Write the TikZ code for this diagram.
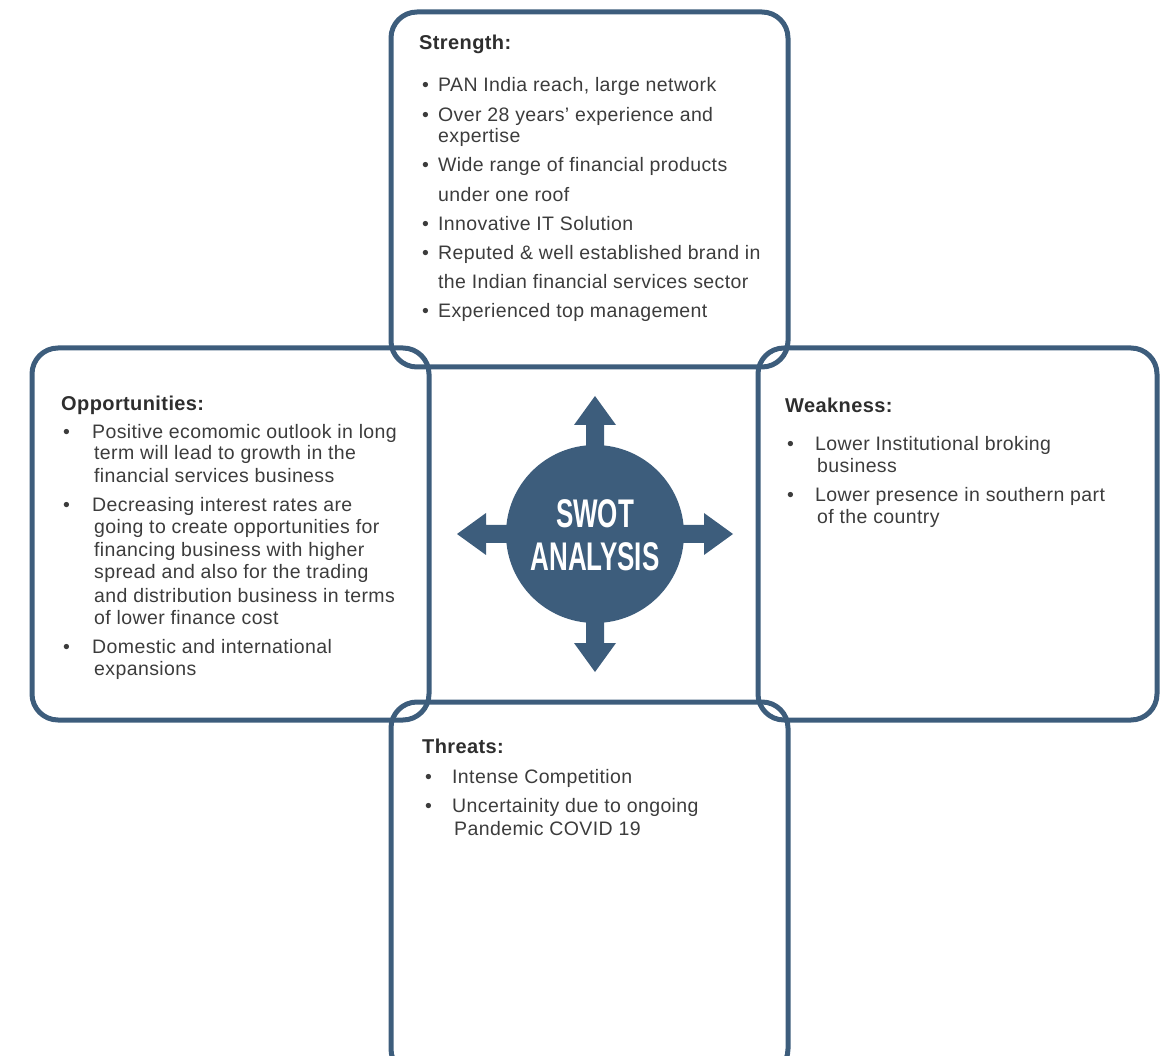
\documentclass[tikz,border=0pt]{standalone}
\usepackage{fontspec}
\setmainfont{Liberation Sans}[LetterSpace=2]
\newfontfamily\swotfont[FakeStretch=0.65]{Liberation Sans}

\definecolor{swotblue}{HTML}{3D5D7C}
\definecolor{headgray}{HTML}{2E2E2E}
\definecolor{bodygray}{HTML}{3C3C3C}

\tikzset{
  quad/.style={draw=swotblue, line width=5pt, rounded corners=26pt},
  head/.style={anchor=base west, inner sep=0pt, text=headgray,
               font=\fontsize{20}{24}\selectfont\bfseries},
  line/.style={anchor=base west, inner sep=0pt, text=bodygray,
               font=\fontsize{19.5}{23}\selectfont},
  dot/.style={line}
}

\begin{document}
\begin{tikzpicture}[x=1pt,y=-1pt]

  \useasboundingbox (0,0) rectangle (1171,1056);
  \clip (0,0) rectangle (1171,1056);

  % the four boxes
  \draw[quad] (391,12)  rectangle (788,367);
  \draw[quad] (32,348)  rectangle (429,720);
  \draw[quad] (758,348) rectangle (1157,720);
  \draw[quad] (391,702) rectangle (788,1075);

  % hub with its four arrows
  \node[circle, fill=swotblue, minimum size=178pt, inner sep=0pt] (hub) at (595,534) {};
  \begin{scope}[shift={(hub.center)}]
    \foreach \a in {0,90,180,270}
      \fill[swotblue, rotate=\a] (80,-9) -- (109,-9) -- (109,-21) -- (138,0)
        -- (109,21) -- (109,9) -- (80,9) -- cycle;
  \end{scope}
  \begin{scope}[every node/.style={anchor=base, inner sep=0pt, text=white,
                                   font=\swotfont\fontsize{40}{44}\selectfont\bfseries}]
    \node (swot)     at (595,528) {SWOT};
    \node (analysis) at (595,571) {ANALYSIS};
  \end{scope}

  % Strength
  \node[head] (strength) at (419,50) {Strength:};
  \foreach \y in {92,122,172,231,260,318}
    \node[dot] (sb-\y) at (422,\y) {•};
  \foreach \y/\t in {92/{PAN India reach, large network},
                     122/{Over 28 years’ experience and},
                     143/{expertise},
                     172/{Wide range of financial products},
                     202/{under one roof},
                     231/{Innovative IT Solution},
                     260/{Reputed \& well established brand in},
                     289/{the Indian financial services sector},
                     318/{Experienced top management}}
    \node[line] (s-\y) at (438,\y) {\t};

  % Opportunities
  \node[head] (opportunities) at (61,411) {Opportunities:};
  \foreach \y in {439,512,653}
    \node[dot] (ob-\y) at (63,\y) {•};
  \foreach \x/\y/\t in {92/439/{Positive ecomomic outlook in long},
                        94/460/{term will lead to growth in the},
                        94/483/{financial services business},
                        92/512/{Decreasing interest rates are},
                        94/534/{going to create opportunities for},
                        94/557/{financing business with higher},
                        94/579/{spread and also for the trading},
                        94/602/{and distribution business in terms},
                        94/624/{of lower finance cost},
                        92/653/{Domestic and international},
                        94/675/{expansions}}
    \node[line] (o-\y) at (\x,\y) {\t};

  % Weakness
  \node[head] (weakness) at (785,413) {Weakness:};
  \foreach \y in {451,502}
    \node[dot] (wb-\y) at (787,\y) {•};
  \foreach \x/\y/\t in {815/451/{Lower Institutional broking},
                        817/473/{business},
                        815/502/{Lower presence in southern part},
                        817/524/{of the country}}
    \node[line] (w-\y) at (\x,\y) {\t};

  % Threats
  \node[head] (threats) at (422,753) {Threats:};
  \foreach \y in {783,812}
    \node[dot] (tb-\y) at (425,\y) {•};
  \foreach \x/\y/\t in {452/783/{Intense Competition},
                        452/812/{Uncertainity due to ongoing},
                        454/835/{Pandemic COVID 19}}
    \node[line] (t-\y) at (\x,\y) {\t};

\end{tikzpicture}
\end{document}
